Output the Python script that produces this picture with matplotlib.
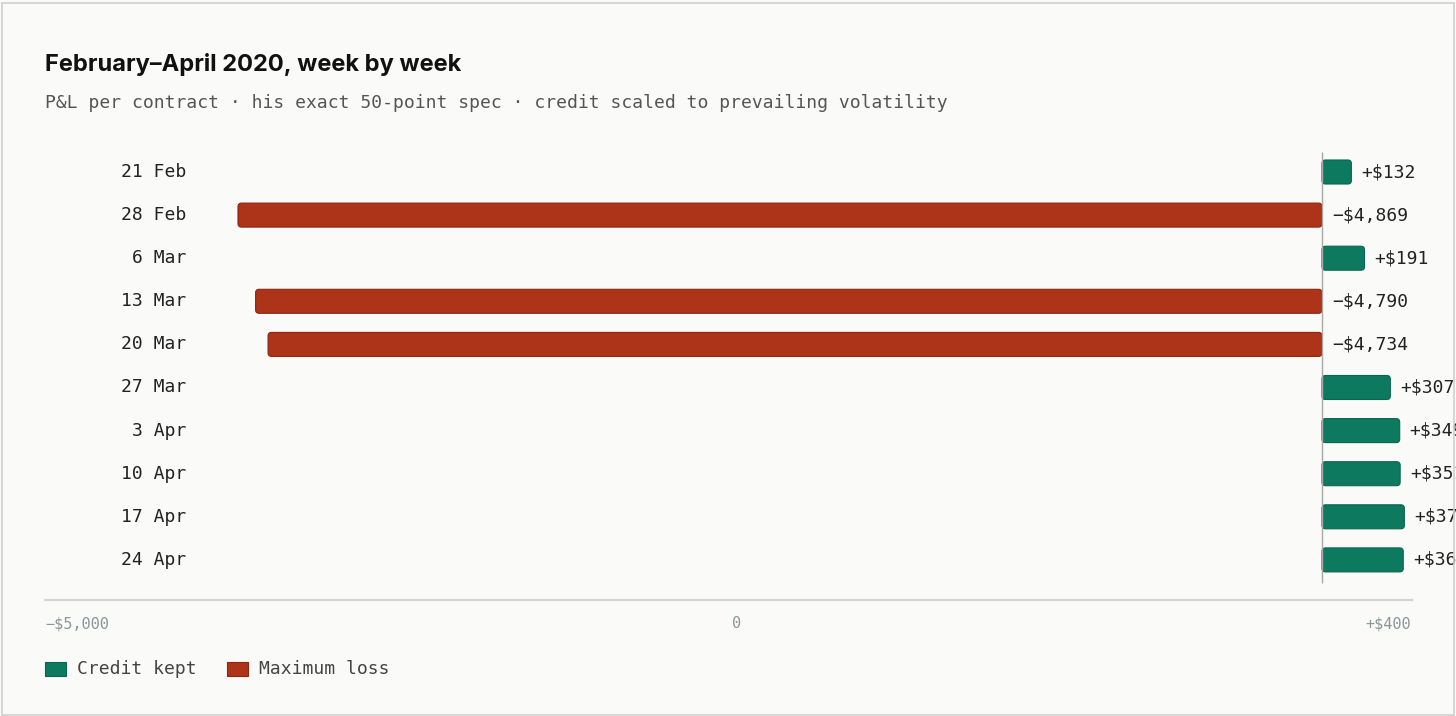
import matplotlib
matplotlib.use("Agg")
import matplotlib.pyplot as plt
from matplotlib.patches import FancyBboxPatch, Rectangle
import matplotlib.transforms as mtransforms

# ---- data ----
weeks = ["21 Feb", "28 Feb", "6 Mar", "13 Mar", "20 Mar",
         "27 Mar", "3 Apr", "10 Apr", "17 Apr", "24 Apr"]
pnl = [132, -4869, 191, -4790, -4734, 307, 349, 351, 370, 365]
tick_labels = ["\u2212$5,000", "0", "+$400"]
legend_labels = ["Credit kept", "Maximum loss"]
title = "February\u2013April 2020, week by week"
subtitle = "P&L per contract \u00b7 his exact 50-point spec \u00b7 credit scaled to prevailing volatility"

# ---- style ----
W, H, DPI = 1456, 716, 100
BG = "#fafaf8"
GREEN = "#0d7a5f"
GREEN_EDGE = "#0a6650"
RED = "#ad3319"
RED_EDGE = "#8f2410"
MONO = "DejaVu Sans Mono"
FS = 13

fig = plt.figure(figsize=(W / DPI, H / DPI), dpi=DPI, facecolor=BG)

def fx(px):
    return px / W

def fy(py):
    return 1 - py / H

# axes geometry in pixels
ax_l, ax_r, ax_t, ax_b = 45, 1412, 152, 600
ax = fig.add_axes([fx(ax_l), fy(ax_b), fx(ax_r) - fx(ax_l), fy(ax_t) - fy(ax_b)])
ax.set_facecolor(BG)

# scale: zero at px 1322
zero_px = 1322
px_per = (1322 - 238) / 4869.0
xmin = (ax_l - zero_px) / px_per
xmax = (ax_r - zero_px) / px_per
ax.set_xlim(xmin, xmax)

row_px0, row_step = 172, 43.1
ytop = -(row_px0 - ax_t) / row_step
ybot = (len(weeks) - 1) + (ax_b - (row_px0 + row_step * (len(weeks) - 1))) / row_step
ax.set_ylim(ybot, ytop)

bar_h = 24 / row_step
ypos = list(range(len(weeks)))
colors = [GREEN if v >= 0 else RED for v in pnl]
edges = [GREEN_EDGE if v >= 0 else RED_EDGE for v in pnl]
bars = ax.barh(ypos, pnl, height=bar_h, color=colors)

# rounded versions of bars
x_per_px = 1 / px_per
y_per_px = 1 / row_step
for b, c, e in zip(bars, colors, edges):
    x0, y0, w, h = b.get_x(), b.get_y(), b.get_width(), b.get_height()
    if w < 0:
        x0, w = x0 + w, -w
    b.set_visible(False)
    p = FancyBboxPatch((x0, y0), w, h,
                       boxstyle="round,pad=0,rounding_size=%f" % (3.5 * x_per_px),
                       mutation_aspect=y_per_px / x_per_px,
                       facecolor=c, edgecolor=e, linewidth=0.8, zorder=3)
    ax.add_patch(p)

# zero line
vline_end = (len(weeks) - 1) + (583 - (row_px0 + row_step * (len(weeks) - 1))) / row_step
ax.plot([0, 0], [ytop, vline_end], color="#a8a8a4", lw=1.0, zorder=4, solid_capstyle="butt")

# spines / ticks
for s in ["top", "right", "left"]:
    ax.spines[s].set_visible(False)
ax.spines["bottom"].set_color("#d4d4d0")
ax.spines["bottom"].set_linewidth(1.6)
ax.set_xticks([])
ax.set_yticks([])

# category labels
for i, wk in enumerate(weeks):
    fig.text(fx(186), fy(row_px0 + row_step * i), wk, ha="right", va="center",
             family=MONO, fontsize=FS, color="#222222")

# value labels (clipped at the card edge, as in the original)
clip = Rectangle((0, 0), 1453, H, transform=mtransforms.IdentityTransform())
off = 10 * x_per_px
for i, v in enumerate(pnl):
    if v >= 0:
        s = "+$%s" % format(v, ",")
        x = v + off
    else:
        s = "\u2212$%s" % format(-v, ",")
        x = 0 + off
    t = ax.text(x, i, s, ha="left", va="center", family=MONO, fontsize=FS,
                color="#222222", clip_on=False)
    t.set_clip_path(clip)

# axis tick labels
tick_y = fy(624)
fig.text(fx(45), tick_y, tick_labels[0], ha="left", va="center", family=MONO,
         fontsize=11, color="#8a979a")
fig.text(fx(737), tick_y, tick_labels[1], ha="center", va="center", family=MONO,
         fontsize=11, color="#8a979a")
fig.text(fx(1411), tick_y, tick_labels[2], ha="right", va="center", family=MONO,
         fontsize=11, color="#8a979a")

# title & subtitle
fig.text(fx(45), fy(64), title, ha="left", va="center", family="Inter",
         fontweight="bold", fontsize=17, color="#111111")
fig.text(fx(45), fy(103), subtitle, ha="left", va="center", family=MONO,
         fontsize=FS, color="#555555")

# legend
leg_y = 669
for (sx, lbl, c, e) in [(45, legend_labels[0], GREEN, GREEN_EDGE),
                        (227, legend_labels[1], RED, RED_EDGE)]:
    fig.patches.append(Rectangle((fx(sx), fy(leg_y + 7)), fx(21), 14 / H,
                                 transform=fig.transFigure, facecolor=c,
                                 edgecolor=e, linewidth=0.8))
    fig.text(fx(sx + 32), fy(leg_y), lbl, ha="left", va="center", family=MONO,
             fontsize=FS, color="#444444")

# card border
fig.patches.append(Rectangle((fx(1.5), fy(714.5)), fx(1452), 712 / H,
                             transform=fig.transFigure, fill=False,
                             edgecolor="#cfcfcf", linewidth=1.2))

fig.savefig("out.png", dpi=DPI, facecolor=BG)
